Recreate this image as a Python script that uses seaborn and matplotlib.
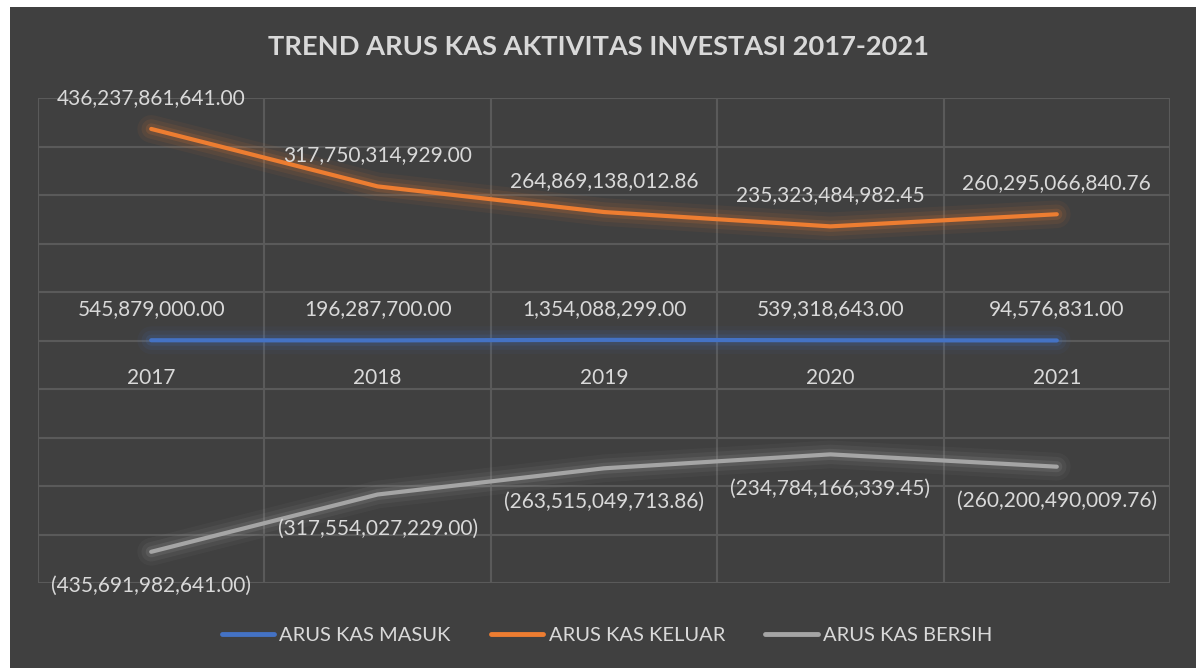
import pandas as pd
import matplotlib.pyplot as plt
import matplotlib.patheffects as pe
from matplotlib.patches import Rectangle
import seaborn as sns

# --- Data ---
years = ['2017', '2018', '2019', '2020', '2021']
kas_masuk = [545879000.00, 196287700.00, 1354088299.00, 539318643.00, 94576831.00]
kas_keluar = [436237861641.00, 317750314929.00, 264869138012.86, 235323484982.45, 260295066840.76]
kas_bersih = [-435691982641.00, -317554027229.00, -263515049713.86, -234784166339.45, -260200490009.76]

series_names = ['ARUS KAS MASUK', 'ARUS KAS KELUAR', 'ARUS KAS BERSIH']
colors = {'ARUS KAS MASUK': '#4472C4', 'ARUS KAS KELUAR': '#ED7D31', 'ARUS KAS BERSIH': '#A5A5A5'}

# --- Style ---
BG = '#404040'
GRID = '#5A5A5A'
TEXT = '#D9D9D9'
sns.set_style('dark')
plt.rcParams['font.family'] = ['Lato', 'DejaVu Sans']

df = pd.DataFrame({
    'Tahun': years * 3,
    'idx': list(range(len(years))) * 3,
    'Nilai': kas_masuk + kas_keluar + kas_bersih,
    'Seri': [s for s in series_names for _ in years],
})

fig = plt.figure(figsize=(11.96, 6.68), dpi=100, facecolor='white')
# dark chart area with thin white border on top/left
fig.patches.append(Rectangle((10 / 1196, 0), 1 - 10 / 1196, 1 - 7 / 668,
                             transform=fig.transFigure, facecolor=BG,
                             edgecolor='none', zorder=-5))

ax = fig.add_axes([38 / 1196, 1 - 583 / 668, (1170 - 38) / 1196, (583 - 98) / 668])
ax.set_facecolor(BG)

sns.lineplot(data=df, x='idx', y='Nilai', hue='Seri', hue_order=series_names,
             palette=colors, linewidth=3, ax=ax, legend=True)

# soft glow around each line
for line in ax.lines:
    c = line.get_color()
    line.set_solid_capstyle('round')
    line.set_path_effects([
        pe.Stroke(linewidth=20, foreground=c, alpha=0.06),
        pe.Stroke(linewidth=14, foreground=c, alpha=0.09),
        pe.Stroke(linewidth=8, foreground=c, alpha=0.15),
        pe.Normal(),
    ])

# axes, grid
ax.set_xlim(-0.5, len(years) - 0.5)
ax.set_ylim(-500e9, 500e9)
ax.set_yticks([i * 100e9 for i in range(-5, 6)])
ax.set_yticklabels([])
ax.set_xticks(range(len(years)))
ax.set_xticklabels(years)
ax.set_xticks([i - 0.5 for i in range(len(years) + 1)], minor=True)
ax.grid(False)
ax.grid(which='major', axis='y', color=GRID, linewidth=1.5)
ax.grid(which='minor', axis='x', color=GRID, linewidth=1.5)
ax.set_axisbelow(True)
for s in ax.spines.values():
    s.set_visible(False)
ax.spines['bottom'].set_position(('data', 0))
ax.tick_params(axis='x', which='both', length=0, pad=20, labelsize=15, labelcolor=TEXT)
ax.tick_params(axis='y', length=0)
ax.set_xlabel('')
ax.set_ylabel('')

# data labels
def fmt(v):
    s = f'{abs(v):,.2f}'
    return f'({s})' if v < 0 else s

for vals, off in [(kas_masuk, 31), (kas_keluar, 31), (kas_bersih, -34)]:
    for i, v in enumerate(vals):
        ax.annotate(fmt(v), (i, v), xytext=(0, off), textcoords='offset pixels',
                    ha='center', va='center', fontsize=15, color=TEXT)

fig.text(0.5, 1 - 47 / 668, 'TREND ARUS KAS AKTIVITAS INVESTASI 2017-2021',
         ha='center', va='center', fontsize=19.6, fontweight='bold', color=TEXT)

handles, labels = ax.get_legend_handles_labels()
ax.get_legend().remove()
leg = fig.legend(handles, labels, loc='center', bbox_to_anchor=(607 / 1196, 1 - 635 / 668),
                 ncol=3, frameon=False, fontsize=14.5, labelcolor=TEXT,
                 handlelength=2.6, handletextpad=0.25, columnspacing=2.0)
for h in leg.get_lines():
    h.set_linewidth(3.5)
    h.set_path_effects([])

fig.savefig('out.png', dpi=100, facecolor='white')
